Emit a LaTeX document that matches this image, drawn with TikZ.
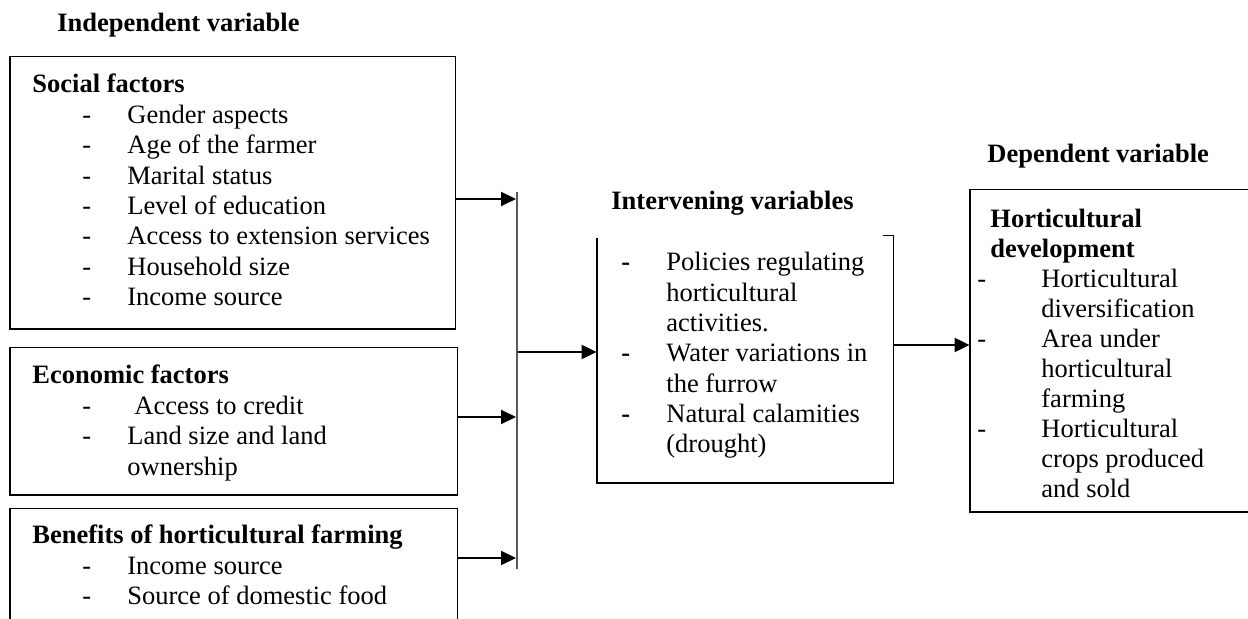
\documentclass[tikz,border=0pt]{standalone}
\usepackage{fontspec}
\setmainfont{Liberation Serif}
\usetikzlibrary{arrows.meta,fit}
\newcommand\dgfs{\fontsize{13.25pt}{15.2pt}\selectfont}
\begin{document}
\begin{tikzpicture}[x=0.5pt,y=-0.5pt,
  txt/.style={anchor=base west,inner sep=0pt,font=\dgfs},
  hd/.style={anchor=base west,inner sep=0pt,font=\dgfs\bfseries},
  boxline/.style={line width=0.9pt,black},
  holder/.style={inner sep=0pt,draw=none},
  arr/.style={line width=1pt,-{Triangle[length=7.5pt,width=7pt]}},
  busline/.style={line width=0.8pt,black!65}]
\useasboundingbox (0,0) rectangle (1248,619);

% ---- headings
\node[hd] (hIndep) at (57,32) {Independent variable};
\node[hd] (hInterv) at (611,210) {Intervening variables};
\node[hd] (hDep) at (987,163) {Dependent variable};

% ---- box frames
\node[holder,fit={(10,57) (455,329)}] (social) {};
\draw[boxline] (social.north west) rectangle (social.south east);
\node[holder,fit={(10,348) (457,495)}] (econ) {};
\draw[boxline] (econ.north west) rectangle (econ.south east);
\node[holder,fit={(10,509) (457,619)}] (ben) {};
\draw[boxline] (ben.south west) -- (ben.north west) -- (ben.north east) -- (ben.south east);
\node[holder,fit={(597,238) (893,483)}] (interv) {};
\draw[boxline] (interv.north west) -- (interv.south west) -- (interv.south east) -- ([yshift=1pt]interv.north east) -- ++(-10,0);
\node[holder,fit={(970,190) (1248,512)}] (dep) {};
\draw[boxline] (dep.north east) -- (dep.north west) -- (dep.south west) -- (dep.south east);

% ---- social factors
\node[hd] (sH) at (32,93) {Social factors};
\foreach \t [count=\i] in {Gender aspects, Age of the farmer, Marital status, Level of education, Access to extension services, Household size, Income source} {
  \node[txt] (sd\i) at (82,{93+30.4*\i}) {-};
  \node[txt] (st\i) at (127,{93+30.4*\i}) {\t};
}

% ---- economic factors
\node[hd] (eH) at (32,384) {Economic factors};
\node[txt] (ed1) at (82,414.4) {-};
\node[txt] (et1) at (134,414.4) {Access to credit};
\node[txt] (ed2) at (82,444.8) {-};
\node[txt] (et2) at (127,444.8) {Land size and land};
\node[txt] (et3) at (127,475.2) {ownership};

% ---- benefits
\node[hd] (bH) at (32,544) {Benefits of horticultural farming};
\node[txt] (bd1) at (82,574.4) {-};
\node[txt] (bt1) at (127,574.4) {Income source};
\node[txt] (bd2) at (82,604.8) {-};
\node[txt] (bt2) at (127,604.8) {Source of domestic food};

% ---- intervening
\node[txt] (id1) at (621,271) {\textbf{-}};
\node[txt] (it1) at (666,271) {Policies regulating};
\node[txt] (it2) at (666,301.3) {horticultural};
\node[txt] (it3) at (666,331.6) {activities.};
\node[txt] (id2) at (621,361.9) {\textbf{-}};
\node[txt] (it4) at (666,361.9) {Water variations in};
\node[txt] (it5) at (666,392.2) {the furrow};
\node[txt] (id3) at (621,422.5) {\textbf{-}};
\node[txt] (it6) at (666,422.5) {Natural calamities};
\node[txt] (it7) at (666,452.8) {(drought)};

% ---- dependent
\node[hd] (dH1) at (990,228) {Horticultural};
\node[hd] (dH2) at (990,258) {development};
\node[txt] (dd1) at (977,288) {-};
\node[txt] (dt1) at (1041,288) {Horticultural};
\node[txt] (dt2) at (1041,318) {diversification};
\node[txt] (dd2) at (977,348) {-};
\node[txt] (dt3) at (1041,348) {Area under};
\node[txt] (dt4) at (1041,378) {horticultural};
\node[txt] (dt5) at (1041,408) {farming};
\node[txt] (dd3) at (977,438) {-};
\node[txt] (dt6) at (1041,438) {Horticultural};
\node[txt] (dt7) at (1041,468) {crops produced};
\node[txt] (dt8) at (1041,498) {and sold};

% ---- connectors
\coordinate (busT) at (517,192);
\coordinate (busB) at (517,569);
\draw[busline] (busT) -- (busB);
\coordinate (aS) at (516,199);
\coordinate (aE) at (516,417);
\coordinate (aB) at (516,558);
\coordinate (aI) at (518,352);
\coordinate (aD) at (893,345);
\draw[arr] (social.east |- aS) -- (aS);
\draw[arr] (econ.east |- aE) -- (aE);
\draw[arr] (ben.east |- aB) -- (aB);
\draw[arr] (aI) -- (interv.west |- aI);
\draw[arr] (interv.east |- aD) -- (dep.west |- aD);
\end{tikzpicture}
\end{document}
